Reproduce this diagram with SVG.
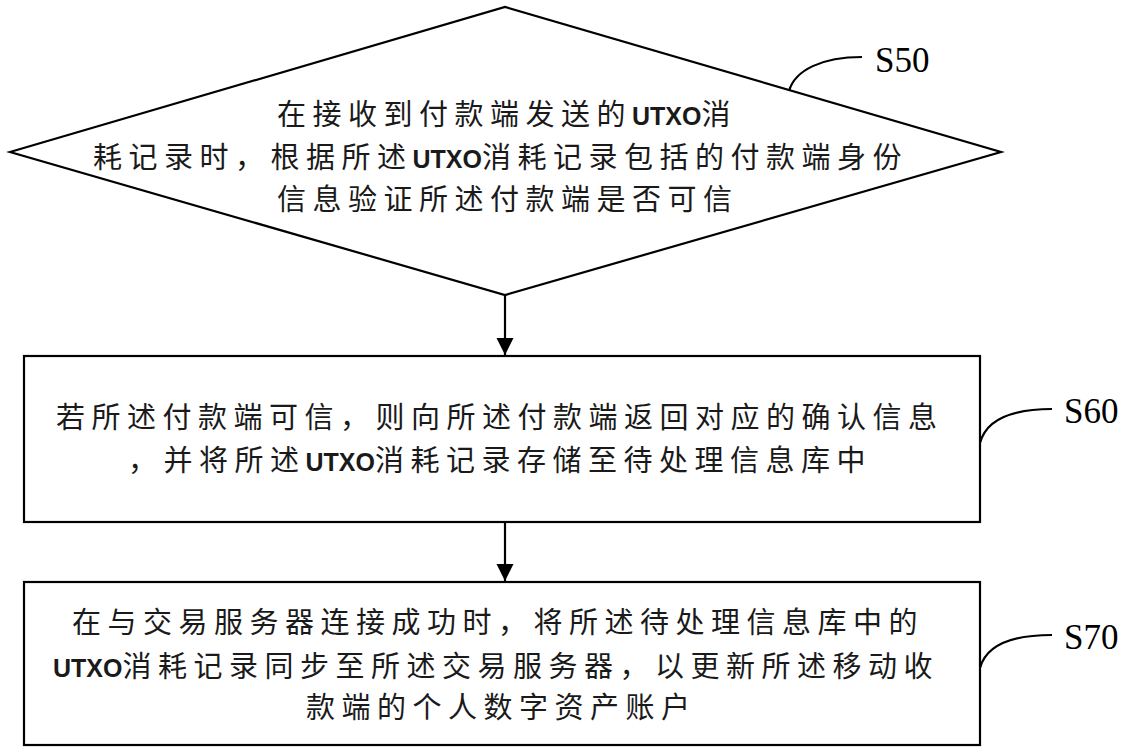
<svg xmlns="http://www.w3.org/2000/svg" width="1128" height="748" viewBox="0 0 1128 748">
<style>
.shape{fill:#fff;stroke:#000;stroke-width:2.2}
.conn{stroke:#000;stroke-width:2.2;fill:none}
.lead{stroke:#000;stroke-width:2.2;fill:none}
.t{font-family:"Noto Sans CJK SC","Noto Sans",sans-serif;font-size:29px;letter-spacing:6.5px;fill:#1a1a1a}
.u{letter-spacing:0px;font-family:"Liberation Sans",sans-serif;font-size:25px;font-weight:bold}
.lbl{font-family:"Liberation Serif",serif;font-size:35px;fill:#000}
</style>
<defs>
<marker id="ah" markerWidth="18" markerHeight="26" refX="17" refY="8.5" orient="auto" markerUnits="userSpaceOnUse">
<path d="M0,0 L17,8.5 L0,17 z" fill="#000"/>
</marker>
</defs>
<rect width="1128" height="748" fill="#fff"/>
<g id="connectors">
<line class="conn" x1="505" y1="295" x2="505" y2="355" marker-end="url(#ah)"/>
<line class="conn" x1="505" y1="522" x2="505" y2="581" marker-end="url(#ah)"/>
</g>
<g id="S50">
<polygon class="shape" points="10,152 505,7 1001,152 505,295"/>
<text class="t" x="277" y="125">在接收到付款端发送的<tspan class="u">UTXO</tspan>消</text>
<text class="t" x="93" y="168">耗记录时，根据所述<tspan class="u">UTXO</tspan>消耗记录包括的付款端身份</text>
<text class="t" x="277" y="210">信息验证所述付款端是否可信</text>
<path class="lead" d="M789,91 C795,70 822,57 862,57"/>
<text class="lbl" x="875" y="72">S50</text>
</g>
<g id="S60">
<rect class="shape" x="24" y="356" width="956" height="166"/>
<text class="t" x="56" y="428">若所述付款端可信，则向所述付款端返回对应的确认信息</text>
<text class="t" x="128" y="471">，并将所述<tspan class="u">UTXO</tspan>消耗记录存储至待处理信息库中</text>
<path class="lead" d="M980,443 C986,420 1010,409 1052,409"/>
<text class="lbl" x="1064" y="423">S60</text>
</g>
<g id="S70">
<rect class="shape" x="24" y="582" width="956" height="163"/>
<text class="t" x="72" y="633">在与交易服务器连接成功时，将所述待处理信息库中的</text>
<text class="t" x="53" y="677"><tspan class="u">UTXO</tspan>消耗记录同步至所述交易服务器，以更新所述移动收</text>
<text class="t" x="306" y="718">款端的个人数字资产账户</text>
<path class="lead" d="M980,668 C986,646 1010,635 1052,635"/>
<text class="lbl" x="1064" y="649">S70</text>
</g>
</svg>
